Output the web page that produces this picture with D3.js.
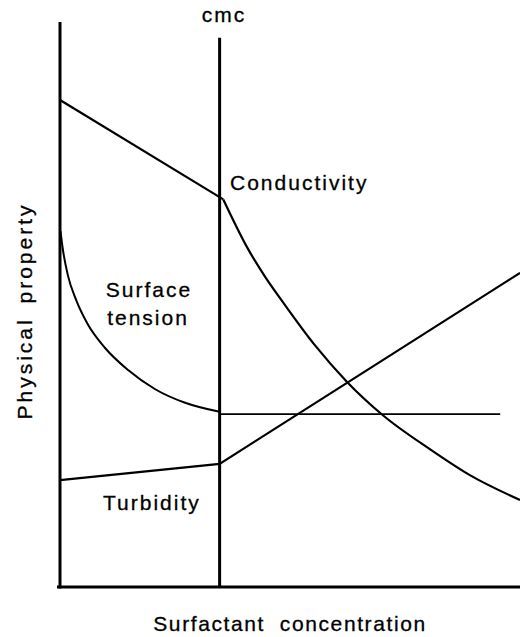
<!DOCTYPE html>
<html><head><meta charset="utf-8">
<script src="https://cdn.jsdelivr.net/npm/d3@7"></script>
<style>body{margin:0;background:#fff}svg text{font-family:"Liberation Sans",Arial,Helvetica,sans-serif;fill:#000;stroke:#000;stroke-width:0.3;white-space:pre}</style>
</head><body>
<script>
// Data (arbitrary units: concentration 0-100, property 0-100)
const cmc = 34.7;
const conductivityX = [0, 34.7, 35.5, 40.9, 44.6, 48.3, 55.4, 62.4, 70.2, 80.4, 89.1, 100];
const conductivityY = [86.2, 69.0, 68.6, 59.8, 54.9, 50.6, 42.8, 36.3, 30.4, 24.4, 19.8, 15.4];
const surfaceX = [0.1, 0.65, 1.7, 3.5, 6.1, 9.8, 14.8, 20.7, 27.2, 34.7];
const surfaceY = [63.0, 59.6, 55.2, 50.8, 46.4, 42.3, 38.4, 35.0, 32.6, 31.0];
const surfacePlateauX = [34.7, 95.7];
const surfacePlateauY = [30.6, 30.6];
const turbidityX = [0, 34.7, 100];
const turbidityY = [18.9, 21.8, 55.6];
const labels = {x: "Surfactant  concentration", y: "Physical property", cmc: "cmc"};

const W = 520, H = 637;
const svg = d3.select("body").append("svg").attr("width", W).attr("height", H);
const x = d3.scaleLinear().domain([0, 100]).range([60, 520]);
const y = d3.scaleLinear().domain([0, 100]).range([587, 22]);
const zip = (a, b) => a.map((v, i) => [v, b[i]]);

// axes
svg.append("line").attr("x1", x(0)).attr("x2", x(0)).attr("y1", y(100)).attr("y2", y(0) + 1.5)
  .attr("stroke", "#000").attr("stroke-width", 3);
svg.append("line").attr("x1", x(0) - 3).attr("x2", x(100)).attr("y1", y(0)).attr("y2", y(0))
  .attr("stroke", "#000").attr("stroke-width", 3);
// cmc line
svg.append("line").attr("x1", x(cmc)).attr("x2", x(cmc)).attr("y1", y(97.2)).attr("y2", y(0))
  .attr("stroke", "#000").attr("stroke-width", 3);

const line = d3.line().x(d => x(d[0])).y(d => y(d[1]));
const smooth = d3.line().x(d => x(d[0])).y(d => y(d[1])).curve(d3.curveMonotoneX);
// conductivity: straight then curved
svg.append("path").attr("d", line(zip(conductivityX.slice(0, 2), conductivityY.slice(0, 2))))
  .attr("fill", "none").attr("stroke", "#000").attr("stroke-width", 2.2);
svg.append("path").attr("d", line(zip(conductivityX.slice(1, 3), conductivityY.slice(1, 3))))
  .attr("fill", "none").attr("stroke", "#000").attr("stroke-width", 2.2);
svg.append("path").attr("d", smooth(zip(conductivityX.slice(2), conductivityY.slice(2))))
  .attr("fill", "none").attr("stroke", "#000").attr("stroke-width", 2.2);
// surface tension
svg.append("path").attr("d", smooth(zip(surfaceX, surfaceY)))
  .attr("fill", "none").attr("stroke", "#000").attr("stroke-width", 2);
svg.append("path").attr("d", line(zip(surfacePlateauX, surfacePlateauY)))
  .attr("fill", "none").attr("stroke", "#000").attr("stroke-width", 1.8);
// turbidity
svg.append("path").attr("d", line(zip(turbidityX, turbidityY)))
  .attr("fill", "none").attr("stroke", "#000").attr("stroke-width", 2.2);

// texts
const t = (txt, px, py, anchor) => svg.append("text").attr("x", px).attr("y", py)
  .attr("text-anchor", anchor || "start").attr("font-size", 21).attr("letter-spacing", 2).text(txt);
t(labels.cmc, 224, 22, "middle");
t("Conductivity", 230, 190);
t("Surface", 149, 297, "middle");
t("tension", 148, 325, "middle");
t("Turbidity", 103, 510);
t(labels.x, 290, 631, "middle").attr("letter-spacing", 1.6);
svg.append("text").attr("transform", "translate(32,311) rotate(-90)").attr("text-anchor", "middle")
  .attr("font-size", 21).attr("letter-spacing", 3).attr("word-spacing", 5).text(labels.y);
</script>
</body></html>
